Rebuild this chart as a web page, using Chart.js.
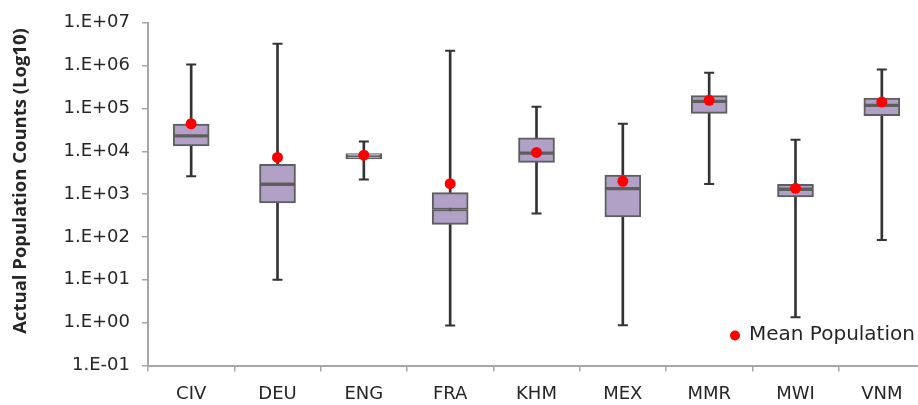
<!DOCTYPE html>
<html>
<head>
<meta charset="utf-8">
<script src="https://cdn.jsdelivr.net/npm/chart.js@4.4.1/dist/chart.umd.min.js"></script>
<style>
html, body { margin: 0; padding: 0; background: #fff; overflow: hidden; }
</style>
</head>
<body>
<canvas id="boxChart" width="932" height="405"></canvas>
<script>
const countries = ["CIV", "DEU", "ENG", "FRA", "KHM", "MEX", "MMR", "MWI", "VNM"];
const whiskerMin = [2600, 10, 2200, 0.86, 354, 0.87, 1730, 1.34, 85];
const boxQ1 = [13400, 627, 6600, 197, 5500, 296, 77000, 863, 68000];
const boxMedian = [23000, 1700, 7600, 438, 9100, 1350, 146000, 1300, 118000];
const boxQ3 = [43000, 5000, 8900, 1090, 20600, 2800, 200000, 1700, 175000];
const whiskerMax = [1070000, 3250000, 17000, 2240000, 110000, 44000, 680000, 18500, 810000];
const meanPop = [44000, 7200, 8100, 1760, 9400, 2000, 155000, 1370, 141000];

const yTickValues = [0.1, 1, 10, 100, 1000, 10000, 100000, 1000000, 10000000];
const yTickLabels = ["1.E-01", "1.E+00", "1.E+01", "1.E+02", "1.E+03", "1.E+04", "1.E+05", "1.E+06", "1.E+07"];
const yTitle = "Actual Population Counts (Log10)";
const legendText = "Mean Population";

const boxFill = "#b2a1c7";
const boxLine = "#5e5e5e";
const whiskerColor = "#333333";
const axisColor = "#a6a6a6";
const textColor = "#262626";

// y title sits a bit above the plot centre in the original, so draw it by hand
// and the legend lives inside the plot at bottom right
const extrasPlugin = {
    id: "extras",
    afterDraw(chart) {
        const ctx = chart.ctx;
        ctx.save();
        ctx.translate(21, 181);
        ctx.rotate(-Math.PI / 2);
        ctx.fillStyle = textColor;
        ctx.font = "bold 18.5px 'Open Sans'";
        ctx.textAlign = "center";
        ctx.textBaseline = "middle";
        ctx.fillText(yTitle, 0, 0);
        ctx.restore();

        ctx.save();
        ctx.fillStyle = "#ff0000";
        ctx.beginPath();
        ctx.arc(735, 335.5, 5, 0, Math.PI * 2);
        ctx.fill();
        ctx.fillStyle = textColor;
        ctx.font = "20px 'DejaVu Sans'";
        ctx.textBaseline = "middle";
        ctx.fillText(legendText, 749, 335);
        ctx.restore();
    }
};

const chart = new Chart(
    document.getElementById("boxChart"),
    {
        type: "bar",
        data: {
            labels: countries,
            datasets: [
                {
                    type: "line",
                    label: legendText,
                    data: meanPop,
                    showLine: false,
                    pointRadius: 5.5,
                    pointBackgroundColor: "#ff0000",
                    pointBorderWidth: 0,
                    order: 0
                },
                {
                    type: "line",
                    label: "caps max",
                    data: whiskerMax,
                    showLine: false,
                    pointStyle: "line",
                    pointRadius: 5,
                    pointBorderColor: whiskerColor,
                    pointBorderWidth: 2,
                    order: 1
                },
                {
                    type: "line",
                    label: "caps min",
                    data: whiskerMin,
                    showLine: false,
                    pointStyle: "line",
                    pointRadius: 5,
                    pointBorderColor: whiskerColor,
                    pointBorderWidth: 2,
                    order: 1
                },
                {
                    label: "upper box",
                    data: boxMedian.map((m, i) => [m, boxQ3[i]]),
                    backgroundColor: boxFill,
                    borderColor: boxLine,
                    borderWidth: 2,
                    borderSkipped: false,
                    barThickness: 36,
                    grouped: false,
                    order: 2
                },
                {
                    label: "lower box",
                    data: boxQ1.map((q, i) => [q, boxMedian[i]]),
                    backgroundColor: boxFill,
                    borderColor: boxLine,
                    borderWidth: 2,
                    borderSkipped: false,
                    barThickness: 36,
                    grouped: false,
                    order: 2
                },
                {
                    label: "whisker",
                    data: whiskerMin.map((v, i) => [v, whiskerMax[i]]),
                    backgroundColor: whiskerColor,
                    barThickness: 2,
                    grouped: false,
                    order: 3
                }
            ]
        },
        options: {
            responsive: false,
            animation: false,
            layout: { padding: { left: 0, top: 21, right: 5, bottom: 0 } },
            plugins: {
                legend: { display: false },
                tooltip: { enabled: false }
            },
            scales: {
                x: {
                    offset: true,
                    grid: {
                        offset: true,
                        drawOnChartArea: false,
                        drawTicks: true,
                        tickLength: 6,
                        color: axisColor,
                        lineWidth: 1.5
                    },
                    border: { color: axisColor, width: 2 },
                    ticks: {
                        color: textColor,
                        padding: 12,
                        font: { family: "DejaVu Sans", size: 18 }
                    },
                    afterFit: (scale) => { scale.height = 39.5; }
                },
                y: {
                    type: "logarithmic",
                    min: 0.1,
                    max: 10000000,
                    grid: {
                        drawOnChartArea: false,
                        drawTicks: true,
                        tickLength: 6,
                        color: axisColor,
                        lineWidth: 1.5
                    },
                    border: { color: axisColor, width: 2 },
                    afterBuildTicks: (scale) => {
                        scale.ticks = yTickValues.map(v => ({ value: v }));
                    },
                    ticks: {
                        color: textColor,
                        padding: 12,
                        autoSkip: false,
                        font: { family: "DejaVu Sans", size: 18 },
                        callback: (value, index) => yTickLabels[index]
                    },
                    afterFit: (scale) => { scale.width = 148; }
                }
            }
        },
        plugins: [extrasPlugin]
    }
);
</script>
</body>
</html>
